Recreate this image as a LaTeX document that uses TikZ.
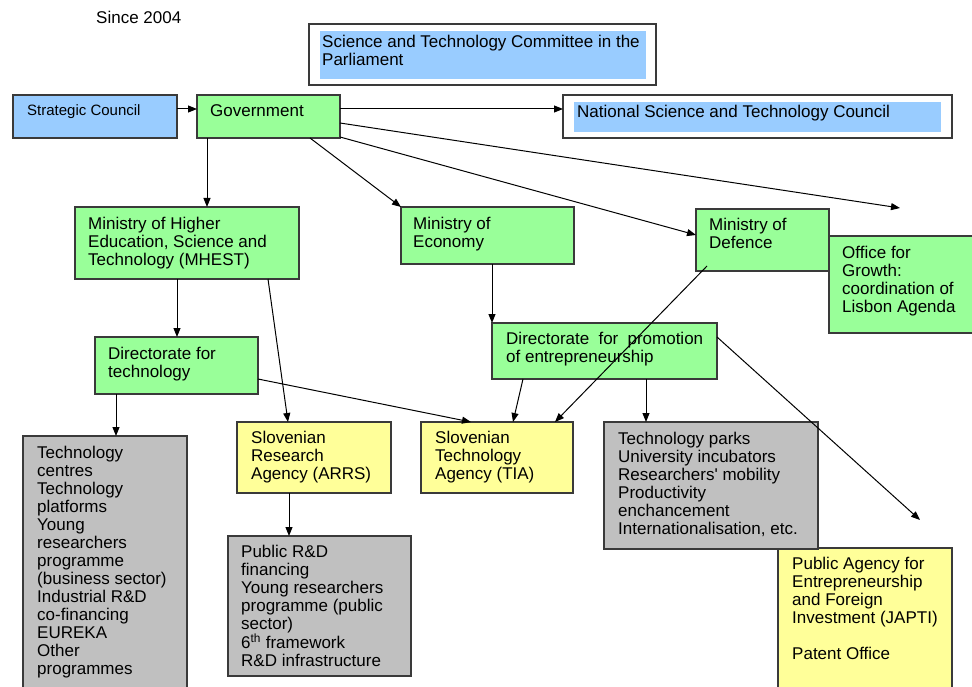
\documentclass[tikz,border=0pt]{standalone}
\usepackage{fontspec}
\setmainfont{Liberation Sans}
\usetikzlibrary{arrows.meta,calc}
\definecolor{gfill}{HTML}{99FF99}
\definecolor{bfill}{HTML}{99CCFF}
\definecolor{yfill}{HTML}{FFFF99}
\definecolor{grfill}{HTML}{C0C0C0}
\definecolor{bordc}{HTML}{3A3A3A}
\begin{document}
\begin{tikzpicture}[x=1pt,y=-1pt,
  box/.style={draw=bordc, line width=1.3pt, anchor=north west, inner sep=0pt, outer sep=0pt},
  inbox/.style={anchor=north west, inner sep=0pt, outer sep=0pt},
  txt/.style={anchor=north west, inner sep=0pt, align=left, font=\fontsize{17}{18}\selectfont, text=black},
  arr/.style={draw=black, line width=1pt, -{Triangle[length=9pt,width=7pt]}}
]
\useasboundingbox (0,0) rectangle (972,687);
\fill[white] (0,0) rectangle (972,687);
\clip (0,0) rectangle (972,687);

% title
\node[txt] (since) at (96,11) {Since 2004};

% top row
\node[box, fill=white, minimum width=347pt, minimum height=61pt] (parl) at (309,24) {};
\node[inbox, fill=bfill, minimum width=326pt, minimum height=48pt] (parlin) at (320,31) {};
\node[txt] (parlt) at (322,35) {Science and Technology Committee in the\\Parliament};

\node[box, fill=bfill, minimum width=164pt, minimum height=43pt] (strat) at (13,95) {};
\node[txt, font=\fontsize{15}{17}\selectfont] (stratt) at (27,104.5) {Strategic Council};

\node[box, fill=gfill, minimum width=143pt, minimum height=43pt] (gov) at (197,95) {};
\node[txt] (govt) at (210,104) {Government};

\node[box, fill=white, minimum width=389pt, minimum height=43pt] (nstc) at (563,95) {};
\node[inbox, fill=bfill, minimum width=367pt, minimum height=30pt] (nstcin) at (574,102) {};
\node[txt] (nstct) at (577,105) {National Science and Technology Council};

% ministries
\node[box, fill=gfill, minimum width=224pt, minimum height=72pt] (mhest) at (75,207) {};
\node[txt] (mhestt) at (88,217) {Ministry of Higher\\Education, Science and\\Technology (MHEST)};

\node[box, fill=gfill, minimum width=173pt, minimum height=57pt] (econ) at (401,207) {};
\node[txt] (econt) at (413,217) {Ministry of\\Economy};

\node[box, fill=gfill, minimum width=133pt, minimum height=62pt] (def) at (696,209) {};
\node[txt] (deft) at (709,218) {Ministry of\\Defence};

\node[box, fill=gfill, minimum width=160pt, minimum height=97pt] (office) at (829,236) {};
\node[txt] (officet) at (842,246) {Office for\\Growth:\\coordination of\\Lisbon Agenda};

% directorates
\node[box, fill=gfill, minimum width=163pt, minimum height=57pt] (dirtech) at (95,337) {};
\node[txt] (dirtecht) at (108,347) {Directorate for\\technology};

\node[box, fill=gfill, minimum width=225pt, minimum height=56pt] (dirpromo) at (492,323) {};
\node[txt] (dirpromot) at (506,332) {\makebox[197pt][s]{Directorate for promotion}\\of entrepreneurship};

% agencies
\node[box, fill=yfill, minimum width=154pt, minimum height=71pt] (arrs) at (237,422) {};
\node[txt] (arrst) at (251,431) {Slovenian\\Research\\Agency (ARRS)};

\node[box, fill=yfill, minimum width=152pt, minimum height=71pt] (tia) at (421,422) {};
\node[txt] (tiat) at (435,431) {Slovenian\\Technology\\Agency (TIA)};

\node[box, fill=yfill, minimum width=174pt, minimum height=160pt] (japti) at (778,548) {};
\node[txt] (japtit) at (792,557) {Public Agency for\\Entrepreneurship\\and Foreign\\Investment (JAPTI)\\[18pt]Patent Office};

% programme boxes
\node[box, fill=grfill, minimum width=164pt, minimum height=270pt] (g1) at (23,436) {};
\node[txt] (g1t) at (37,446) {Technology\\centres\\Technology\\platforms\\Young\\researchers\\programme\\(business sector)\\Industrial R\&D\\co-financing\\EUREKA\\Other\\programmes};

\node[box, fill=grfill, minimum width=183pt, minimum height=140pt] (pub) at (228,536) {};
\node[txt] (pubt) at (241,545) {Public R\&D\\financing\\Young researchers\\programme (public\\sector)\\6\textsuperscript{th} framework\\R\&D infrastructure};

\node[box, fill=grfill, minimum width=214pt, minimum height=127pt] (tp) at (604,422) {};
\node[txt] (tpt) at (618,432) {Technology parks\\University incubators\\Researchers\textquotesingle{} mobility\\Productivity\\enchancement\\Internationalisation, etc.};

% free ends
\coordinate (offend) at (900,208);
\coordinate (japend) at (920,520);

% connectors
\draw[arr] ($(strat.north east)+(0,14)$) -- ($(gov.north west)+(0,14)$);
\draw[arr] ($(gov.north east)+(0,14)$) -- ($(nstc.north west)+(0,14)$);
\draw[arr] ($(gov.south west)+(10,0)$) -- ($(mhest.north west)+(132,0)$);
\draw[arr] ($(gov.south west)+(113,0)$) -- (econ.north west);
\draw[arr] ($(gov.north east)+(0,42)$) -- ($(def.north west)+(0,26)$);
\draw[arr] ($(gov.north east)+(0,28)$) -- (offend);
\draw[arr] ($(mhest.south west)+(102,0)$) -- ($(dirtech.north west)+(82,0)$);
\draw[arr] ($(mhest.south west)+(193,0)$) -- ($(arrs.north west)+(51,0)$);
\draw[arr] ($(econ.south west)+(91,0)$) -- (dirpromo.north west);
\draw[arr] ($(dirpromo.south west)+(31,0)$) -- ($(tia.north west)+(92,0)$);
\draw[arr] ($(def.south west)+(11,-5)$) -- ($(tia.north west)+(134,0)$);
\draw[arr] ($(dirpromo.south west)+(154,0)$) -- ($(tp.north west)+(42,0)$);
\draw[arr] ($(dirpromo.north east)+(0,14)$) -- (japend);
\draw[arr] ($(dirtech.north east)+(0,42)$) -- ($(tia.north west)+(50,0)$);
\draw[arr] ($(dirtech.south west)+(21,0)$) -- ($(g1.north west)+(93,0)$);
\draw[arr] ($(arrs.south west)+(52,0)$) -- ($(pub.north west)+(61,0)$);
\end{tikzpicture}
\end{document}
